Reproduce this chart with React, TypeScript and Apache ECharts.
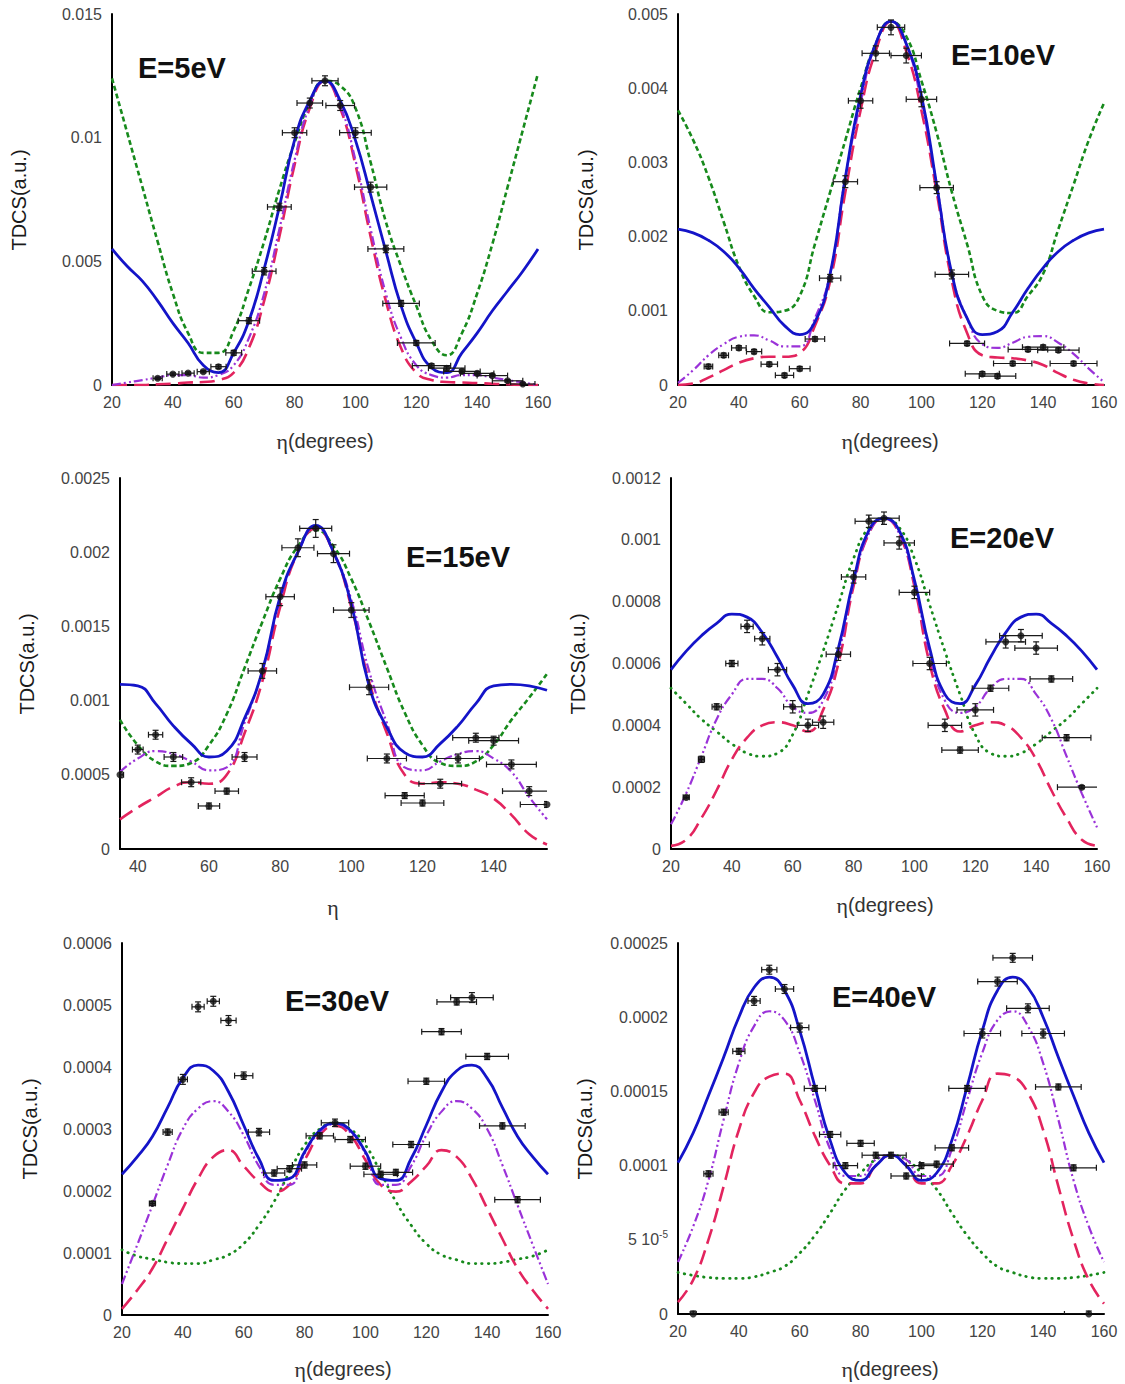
import { useEffect, useRef } from "react";
import * as echarts from "echarts";

// ---------- angles ----------
const ANG = [20, 25, 30, 35, 40, 45, 50, 55, 60, 65, 70, 75, 80, 85, 90, 95, 100, 105, 110, 115, 120, 125, 130, 135, 140, 145, 150, 155, 160];
const ANG15 = [35, 40, 45, 50, 55, 60, 65, 70, 75, 80, 85, 90, 95, 100, 105, 110, 115, 120, 125, 130, 135, 140, 145, 150, 155];

// ---------- E = 5 eV ----------
const e5Blue = [0.0055, 0.0048, 0.0042, 0.0034, 0.0025, 0.0017, 0.0008, 0.0005, 0.0013, 0.0026, 0.0047, 0.0072, 0.0099, 0.0115, 0.0123, 0.0115, 0.0099, 0.0077, 0.0054, 0.0032, 0.0017, 0.0007, 0.0005, 0.0013, 0.0021, 0.0030, 0.0038, 0.0046, 0.0055];
const e5Green = [0.0124, 0.0102, 0.0080, 0.0058, 0.0037, 0.0021, 0.0013, 0.0013, 0.0022, 0.0039, 0.0058, 0.0079, 0.0098, 0.0114, 0.0123, 0.0121, 0.0112, 0.0090, 0.0066, 0.0048, 0.0032, 0.0018, 0.0012, 0.0021, 0.0037, 0.0057, 0.0080, 0.0103, 0.0126];
const e5Purple = [0, 0.0001, 0.0002, 0.0003, 0.0004, 0.0004, 0.0003, 0.0004, 0.0008, 0.0019, 0.0037, 0.0063, 0.0091, 0.0113, 0.0123, 0.0113, 0.0091, 0.0063, 0.0037, 0.0019, 0.0008, 0.0004, 0.0003, 0.0004, 0.0004, 0.0003, 0.0002, 0.0001, 0];
const e5Red = [0, 0, 0, 0.00003, 0.00005, 0.0001, 0.00012, 0.0002, 0.0005, 0.0015, 0.0034, 0.006, 0.0089, 0.0112, 0.0123, 0.0112, 0.0089, 0.006, 0.0034, 0.0015, 0.0005, 0.0002, 0.00012, 0.0001, 0.00008, 0.00005, 0.00003, 0, 0];
const e5ExpX = [35, 40, 45, 50, 55, 60, 65, 70, 75, 80, 85, 90, 95, 100, 105, 110, 115, 120, 125, 130, 135, 140, 145, 150, 155];
const e5ExpY = [0.00027, 0.00044, 0.00048, 0.00054, 0.00074, 0.0013, 0.0026, 0.0046, 0.0072, 0.0102, 0.0114, 0.0123, 0.0113, 0.0102, 0.0080, 0.0055, 0.0033, 0.0017, 0.00078, 0.00068, 0.00055, 0.00047, 0.00038, 0.00017, 0.00004];
const e5ExpDx = [1.5, 2, 2, 2, 2.5, 2.6, 3.5, 3.9, 3.9, 4, 4.2, 4.3, 4.7, 5.2, 5.3, 5.9, 6, 6.2, 6.3, 6, 6, 5.5, 5, 5, 4];
const e5ExpDy = [0.00005, 0.00005, 0.00005, 0.00005, 0.00008, 0.0001, 0.00012, 0.00015, 0.00015, 0.0002, 0.0002, 0.0002, 0.0002, 0.0002, 0.0002, 0.00015, 0.00012, 0.0001, 0.00008, 0.00008, 0.00006, 0.00006, 0.00005, 0.00005, 0.00004];

// ---------- E = 10 eV ----------
const e10Blue = [0.0021, 0.00205, 0.00195, 0.0018, 0.00158, 0.0013, 0.00105, 0.0008, 0.00068, 0.00085, 0.0015, 0.0028, 0.0039, 0.0046, 0.0049, 0.0046, 0.0039, 0.0027, 0.0015, 0.0009, 0.00068, 0.00072, 0.00098, 0.0013, 0.00158, 0.0018, 0.00195, 0.00205, 0.0021];
const e10Green = [0.0037, 0.0033, 0.0028, 0.0022, 0.0016, 0.0012, 0.00098, 0.001, 0.0012, 0.0019, 0.0026, 0.0033, 0.004, 0.0046, 0.0049, 0.0047, 0.0041, 0.0034, 0.0026, 0.0019, 0.0012, 0.001, 0.00097, 0.0012, 0.0015, 0.0021, 0.0027, 0.0033, 0.0038];
const e10Purple = [0.00003, 0.0002, 0.0004, 0.00055, 0.00065, 0.00067, 0.0006, 0.00052, 0.00052, 0.0009, 0.0015, 0.0028, 0.0038, 0.0046, 0.0049, 0.0046, 0.0038, 0.0027, 0.0015, 0.0009, 0.00055, 0.0005, 0.00057, 0.00065, 0.00066, 0.00057, 0.00042, 0.00022, 0.00004];
const e10Red = [0, 0.00002, 0.0001, 0.0002, 0.0003, 0.00036, 0.00038, 0.00038, 0.00043, 0.0008, 0.0014, 0.0026, 0.0037, 0.0045, 0.0049, 0.0045, 0.0037, 0.0026, 0.0014, 0.0007, 0.0004, 0.00037, 0.00036, 0.00033, 0.00027, 0.00016, 0.00007, 0.00002, 0];
const e10ExpX = [30, 35, 40, 45, 50, 55, 60, 65, 70, 75, 80, 85, 90, 95, 100, 105, 110, 115, 120, 125, 130, 135, 140, 145, 150];
const e10ExpY = [0.00025, 0.0004, 0.0005, 0.00045, 0.00028, 0.00013, 0.00022, 0.00062, 0.00144, 0.00274, 0.00383, 0.00447, 0.00482, 0.00444, 0.00385, 0.00266, 0.00149, 0.00056, 0.00015, 0.00012, 0.00029, 0.00048, 0.00051, 0.00047, 0.00029];
const e10ExpDx = [1.4, 1.6, 2.4, 2.5, 2.7, 3, 3.4, 3.2, 3.5, 4, 4, 4.5, 4.5, 5, 5, 5.5, 5.5, 5.75, 5.6, 6, 6.3, 6.5, 6.8, 6.8, 7.7];
const e10ExpDy = [0.00003, 0.00003, 0.00003, 0.00003, 0.00003, 0.00003, 0.00003, 0.00003, 0.00005, 0.00008, 0.0001, 0.0001, 0.0001, 0.0001, 0.0001, 0.00008, 0.00006, 0.00003, 0.00003, 0.00003, 0.00003, 0.00003, 0.00003, 0.00003, 0.00003];

// ---------- E = 15 eV ----------
const e15Blue = [0.00111, 0.0011, 0.00098, 0.00083, 0.00071, 0.00062, 0.00066, 0.00088, 0.0012, 0.0017, 0.002, 0.00218, 0.002, 0.00165, 0.0011, 0.00082, 0.00065, 0.00062, 0.00071, 0.00083, 0.00098, 0.0011, 0.00111, 0.0011, 0.00107];
const e15Green = [0.00087, 0.0007, 0.00059, 0.00056, 0.00058, 0.0007, 0.00091, 0.00122, 0.00153, 0.00182, 0.00204, 0.00215, 0.00204, 0.00182, 0.00153, 0.00122, 0.00092, 0.0007, 0.00058, 0.00056, 0.00059, 0.0007, 0.00087, 0.00102, 0.00118];
const e15Purple = [0.00052, 0.00061, 0.00066, 0.00064, 0.00059, 0.00053, 0.00055, 0.00085, 0.0012, 0.00168, 0.002, 0.00217, 0.002, 0.00168, 0.0012, 0.00085, 0.00055, 0.00053, 0.00059, 0.00064, 0.00066, 0.00061, 0.00052, 0.00035, 0.0002];
const e15Red = [0.0002, 0.00028, 0.00035, 0.00042, 0.00045, 0.00044, 0.0005, 0.00078, 0.00113, 0.00163, 0.002, 0.00216, 0.002, 0.00163, 0.00113, 0.00078, 0.0005, 0.00044, 0.00045, 0.00044, 0.0004, 0.00034, 0.00023, 0.0001, 0.00003];
const e15ExpX = [35, 40, 45, 50, 55, 60, 65, 70, 75, 80, 85, 90, 95, 100, 105, 110, 115, 120, 125, 130, 135, 140, 145, 150, 155];
const e15ExpY = [0.0005, 0.00067, 0.00077, 0.00062, 0.00045, 0.00029, 0.00039, 0.00062, 0.0012, 0.0017, 0.00203, 0.00216, 0.00199, 0.00161, 0.00109, 0.00061, 0.00036, 0.00031, 0.00044, 0.00061, 0.00075, 0.00073, 0.00057, 0.00039, 0.0003];
const e15ExpDx = [1, 1.5, 2, 2.6, 2.7, 3, 3.3, 3.5, 4, 4, 4.5, 4.5, 4.5, 5, 5.5, 5.5, 5.5, 6, 6, 6, 6.5, 7, 7, 7.5, 7.5];
const e15ExpDy = [0.00002, 0.00003, 0.00003, 0.00003, 0.00003, 0.00002, 0.00002, 0.00003, 0.00005, 0.00006, 0.00006, 0.00006, 0.00006, 0.00005, 0.00005, 0.00003, 0.00002, 0.00002, 0.00003, 0.00003, 0.00003, 0.00003, 0.00003, 0.00003, 0.00002];

// ---------- E = 20 eV ----------
const e20Blue = [0.00058, 0.00064, 0.00069, 0.00073, 0.00076, 0.00075, 0.0007, 0.00062, 0.00053, 0.00047, 0.0005, 0.00065, 0.00087, 0.00103, 0.00107, 0.00103, 0.00087, 0.00065, 0.0005, 0.00047, 0.00053, 0.00062, 0.0007, 0.00075, 0.00076, 0.00073, 0.00069, 0.00064, 0.00058];
const e20Green = [0.00052, 0.00047, 0.00042, 0.00038, 0.00034, 0.00031, 0.0003, 0.00031, 0.00037, 0.0005, 0.00064, 0.00079, 0.00094, 0.00104, 0.00107, 0.00104, 0.00094, 0.00079, 0.00064, 0.0005, 0.00037, 0.00031, 0.0003, 0.00031, 0.00034, 0.00038, 0.00042, 0.00047, 0.00052];
const e20Purple = [0.00008, 0.00018, 0.0003, 0.00042, 0.0005, 0.00055, 0.00055, 0.00052, 0.00046, 0.00044, 0.00048, 0.00063, 0.00086, 0.00102, 0.00107, 0.00102, 0.00086, 0.00063, 0.00048, 0.00044, 0.00046, 0.00052, 0.00055, 0.00055, 0.0005, 0.00042, 0.0003, 0.00018, 0.00007];
const e20Red = [0.00001, 0.00003, 0.0001, 0.00019, 0.00029, 0.00036, 0.0004, 0.00041, 0.0004, 0.00038, 0.00045, 0.0006, 0.00085, 0.00102, 0.00107, 0.00102, 0.00085, 0.0006, 0.00045, 0.00038, 0.0004, 0.00041, 0.0004, 0.00036, 0.00029, 0.00019, 0.0001, 0.00003, 0.00001];
const e20ExpX = [25, 30, 35, 40, 45, 50, 55, 60, 65, 70, 75, 80, 85, 90, 95, 100, 105, 110, 115, 120, 125, 130, 135, 140, 145, 150, 155];
const e20ExpY = [0.000167, 0.00029, 0.00046, 0.0006, 0.00072, 0.00068, 0.00058, 0.00046, 0.0004, 0.00041, 0.00063, 0.00088, 0.00106, 0.00107, 0.00099, 0.00083, 0.0006, 0.0004, 0.00032, 0.00045, 0.00052, 0.00067, 0.00069, 0.00065, 0.00055, 0.00036, 0.0002];
const e20ExpDx = [1, 1, 1.5, 2, 2, 2.5, 3, 3, 3.5, 3.5, 4, 4, 4.5, 5, 5, 5, 5.5, 5.5, 6, 6, 6, 6.5, 7, 7, 7, 8, 8];
const e20ExpDy = [0.000005, 0.00001, 0.00001, 0.00001, 0.00002, 0.00002, 0.00002, 0.00002, 0.00002, 0.00002, 0.00002, 0.00002, 0.00002, 0.00002, 0.00002, 0.00002, 0.00002, 0.00002, 0.00001, 0.00002, 0.00001, 0.00002, 0.00002, 0.00002, 0.00001, 0.00001, 0.000005];

// ---------- E = 30 eV ----------
const e30Blue = [0.000227, 0.000255, 0.000288, 0.000335, 0.000382, 0.000403, 0.000394, 0.00036, 0.000306, 0.000252, 0.000217, 0.00022, 0.000263, 0.000298, 0.000309, 0.000298, 0.000263, 0.00022, 0.000217, 0.000252, 0.000306, 0.00036, 0.000394, 0.000403, 0.000382, 0.000335, 0.000288, 0.000255, 0.000227];
const e30Green = [0.000105, 0.000095, 0.00009, 0.000085, 0.000083, 0.000083, 0.000089, 0.000097, 0.000115, 0.000145, 0.000183, 0.00023, 0.000274, 0.0003, 0.00031, 0.0003, 0.000274, 0.00023, 0.000183, 0.000145, 0.000115, 0.000097, 0.000089, 0.000083, 0.000083, 0.000085, 0.00009, 0.000095, 0.000105];
const e30Purple = [0.00005, 0.000113, 0.000177, 0.000242, 0.0003, 0.000333, 0.000345, 0.000328, 0.00029, 0.00024, 0.00021, 0.00021, 0.00026, 0.000295, 0.000308, 0.000295, 0.00026, 0.00021, 0.00021, 0.00024, 0.00029, 0.000328, 0.000345, 0.000333, 0.0003, 0.000242, 0.000177, 0.000113, 0.00005];
const e30Red = [0.00001, 0.00004, 0.000075, 0.000123, 0.000172, 0.00022, 0.000255, 0.000266, 0.00024, 0.000215, 0.000199, 0.00021, 0.00025, 0.00029, 0.000305, 0.00029, 0.00025, 0.00021, 0.000199, 0.000215, 0.00024, 0.000266, 0.000255, 0.00022, 0.000172, 0.000123, 0.000075, 0.00004, 0.00001];
const e30ExpX = [30, 35, 40, 45, 50, 55, 60, 65, 70, 75, 80, 85, 90, 95, 100, 105, 110, 115, 120, 125, 130, 135, 140, 145, 150];
const e30ExpY = [0.00018, 0.000295, 0.00038, 0.000497, 0.000506, 0.000475, 0.000386, 0.000295, 0.000229, 0.000236, 0.000242, 0.000289, 0.00031, 0.000283, 0.00024, 0.000227, 0.00023, 0.000275, 0.000377, 0.000457, 0.000505, 0.000512, 0.000417, 0.000305, 0.000186];
const e30ExpDx = [1, 1.5, 1.5, 2, 2, 2.5, 3, 3.5, 3.5, 4, 4, 4.5, 4.5, 5, 5, 5.5, 5.5, 6, 6, 6.5, 6.5, 7, 7, 7.5, 7.5];
const e30ExpDy = [0.000003, 0.000005, 0.000008, 0.000008, 0.000008, 0.000008, 0.000006, 0.000006, 0.000005, 0.000005, 0.000005, 0.000005, 0.000006, 0.000005, 0.000005, 0.000005, 0.000005, 0.000005, 0.000005, 0.000005, 0.000005, 0.000008, 0.000005, 0.000005, 0.000005];

// ---------- E = 40 eV ----------
const e40Blue = [0.000102, 0.000122, 0.000147, 0.000173, 0.0002, 0.00022, 0.000227, 0.000218, 0.000191, 0.000153, 0.000117, 0.000095, 0.00009, 0.0001, 0.000107, 0.0001, 0.00009, 0.000095, 0.000117, 0.000153, 0.000191, 0.000218, 0.000227, 0.00022, 0.0002, 0.000173, 0.000147, 0.000122, 0.000102];
const e40Green = [0.000028, 0.000026, 0.0000246, 0.000024, 0.000024, 0.000025, 0.000028, 0.000032, 0.000041, 0.000053, 0.000068, 0.000084, 0.000095, 0.000104, 0.000107, 0.000104, 0.000095, 0.000084, 0.000068, 0.000053, 0.000041, 0.000032, 0.000028, 0.000025, 0.000024, 0.000024, 0.0000246, 0.000026, 0.000028];
const e40Purple = [0.000035, 0.000059, 0.00009, 0.000131, 0.000169, 0.000194, 0.000204, 0.000198, 0.000176, 0.000144, 0.000111, 0.000093, 0.000093, 0.000104, 0.000107, 0.000104, 0.000093, 0.000093, 0.000111, 0.000144, 0.000176, 0.000198, 0.000204, 0.000194, 0.000169, 0.000131, 0.00009, 0.000059, 0.000035];
const e40Red = [0.000008, 0.000023, 0.00005, 0.000086, 0.000124, 0.000149, 0.00016, 0.000162, 0.000144, 0.00012, 0.0001, 0.000088, 0.000088, 0.0001, 0.000107, 0.0001, 0.000088, 0.000088, 0.0001, 0.00012, 0.000144, 0.000162, 0.00016, 0.000149, 0.000124, 0.000086, 0.00005, 0.000023, 0.000007];
const e40ExpX = [25, 30, 35, 40, 45, 50, 55, 60, 65, 70, 75, 80, 85, 90, 95, 100, 105, 110, 115, 120, 125, 130, 135, 140, 145, 150, 155];
const e40ExpY = [0, 0.0000945, 0.000136, 0.000177, 0.000211, 0.000232, 0.000219, 0.000193, 0.000152, 0.000121, 0.0001, 0.000115, 0.000107, 0.000107, 0.000093, 0.0001, 0.000101, 0.000112, 0.000152, 0.000189, 0.000224, 0.00024, 0.000206, 0.000189, 0.000153, 0.0000985, 0];
const e40ExpDx = [1, 1.5, 1.5, 2, 2, 2.5, 3, 3, 3.5, 3.5, 4, 4.5, 4.5, 5, 5, 5, 5.5, 5.5, 6, 6, 6.5, 6.5, 7, 7, 7.5, 7.5, 8];
const e40ExpDy = [0.000002, 0.000002, 0.000002, 0.000002, 0.000003, 0.000003, 0.000003, 0.000003, 0.000002, 0.000002, 0.000002, 0.000002, 0.000002, 0.000002, 0.000002, 0.000002, 0.000002, 0.000002, 0.000002, 0.000003, 0.000003, 0.000003, 0.000003, 0.000003, 0.000002, 0.000002, 0.000002];

// ---------- axes / labels ----------
const energyLabels = ["E=5eV", "E=10eV", "E=15eV", "E=20eV", "E=30eV", "E=40eV"];
const xTitles = ["(degrees)", "(degrees)", "", "(degrees)", "(degrees)", "(degrees)"];
const yTitle = "TDCS(a.u.)";
const yMax = [0.015, 0.005, 0.0025, 0.0012, 0.0006, 0.00025];
const yStep = [0.005, 0.001, 0.0005, 0.0002, 0.0001, 0.00005];
const xMin = [20, 20, 35, 20, 20, 20];
const xMax = [160, 160, 155, 160, 160, 160];
const xTickValues = [20, 40, 60, 80, 100, 120, 140, 160];
const xTickValues15 = [40, 60, 80, 100, 120, 140];

const panels = [
  { ang: ANG, blue: e5Blue, green: e5Green, purple: e5Purple, red: e5Red, ex: e5ExpX, ey: e5ExpY, dx: e5ExpDx, dy: e5ExpDy },
  { ang: ANG, blue: e10Blue, green: e10Green, purple: e10Purple, red: e10Red, ex: e10ExpX, ey: e10ExpY, dx: e10ExpDx, dy: e10ExpDy },
  { ang: ANG15, blue: e15Blue, green: e15Green, purple: e15Purple, red: e15Red, ex: e15ExpX, ey: e15ExpY, dx: e15ExpDx, dy: e15ExpDy },
  { ang: ANG, blue: e20Blue, green: e20Green, purple: e20Purple, red: e20Red, ex: e20ExpX, ey: e20ExpY, dx: e20ExpDx, dy: e20ExpDy },
  { ang: ANG, blue: e30Blue, green: e30Green, purple: e30Purple, red: e30Red, ex: e30ExpX, ey: e30ExpY, dx: e30ExpDx, dy: e30ExpDy },
  { ang: ANG, blue: e40Blue, green: e40Green, purple: e40Purple, red: e40Red, ex: e40ExpX, ey: e40ExpY, dx: e40ExpDx, dy: e40ExpDy },
];

// ---------- layout (pixels) ----------
const grids = [
  { left: 112, top: 14, width: 426, height: 371 },
  { left: 678, top: 14, width: 426, height: 371 },
  { left: 120, top: 478, width: 427, height: 371 },
  { left: 671, top: 478, width: 426, height: 371 },
  { left: 122, top: 943, width: 426, height: 372 },
  { left: 678, top: 943, width: 426, height: 371 },
];
const yTitlePos = [[19, 200], [586, 200], [27, 664], [578, 664], [30, 1129], [585, 1129]];
const xTitlePos = [[325, 441], [890, 441], [333, 907], [885, 905], [343, 1369], [890, 1369]];
const ePos = [[138, 68], [951, 55], [406, 557], [950, 538], [285, 1001], [832, 997]];

const SANS = "'Liberation Sans', Arial, sans-serif";
const SERIF = "'Liberation Serif', 'Times New Roman', serif";
const C_BLUE = "#1414c8";
const C_GREEN = "#178a1c";
const C_PURPLE = "#9a32d8";
const C_RED = "#e3245e";

const zip = (xs: number[], ys: number[]) => xs.map((x, i) => [x, ys[i]]);
const fmt = (v: number) => (Math.abs(v) < 1e-12 ? "0" : String(parseFloat(v.toPrecision(4))));

const renderErr = (_params: any, api: any) => {
  const x = api.value(0), y = api.value(1), dx = api.value(2), dy = api.value(3);
  const l = api.coord([x - dx, y]);
  const r = api.coord([x + dx, y]);
  const b = api.coord([x, y - dy]);
  const t = api.coord([x, y + dy]);
  const c = 3;
  const st = { stroke: "#1a1a1a", lineWidth: 1.2 };
  return {
    type: "group",
    children: [
      { type: "line", shape: { x1: l[0], y1: l[1], x2: r[0], y2: r[1] }, style: st },
      { type: "line", shape: { x1: l[0], y1: l[1] - c, x2: l[0], y2: l[1] + c }, style: st },
      { type: "line", shape: { x1: r[0], y1: r[1] - c, x2: r[0], y2: r[1] + c }, style: st },
      { type: "line", shape: { x1: b[0], y1: b[1], x2: t[0], y2: t[1] }, style: st },
      { type: "line", shape: { x1: b[0] - c, y1: b[1], x2: b[0] + c, y2: b[1] }, style: st },
      { type: "line", shape: { x1: t[0] - c, y1: t[1], x2: t[0] + c, y2: t[1] }, style: st },
    ],
  };
};

function buildOption() {
  const xAxis: any[] = [];
  const yAxis: any[] = [];
  const series: any[] = [];
  const graphic: any[] = [];

  panels.forEach((p, i) => {
    const ticks = i === 2 ? xTickValues15 : xTickValues;
    xAxis.push({
      type: "value",
      gridIndex: i,
      min: xMin[i],
      max: xMax[i],
      splitLine: { show: false },
      axisLine: { show: true, onZero: false, lineStyle: { color: "#000", width: 2 } },
      axisTick: { show: false, customValues: ticks },
      axisLabel: { customValues: ticks, color: "#444", fontSize: 16, fontFamily: SANS, margin: 9 },
    });
    const isE40 = i === 5;
    yAxis.push({
      type: "value",
      gridIndex: i,
      min: 0,
      max: yMax[i],
      interval: yStep[i],
      splitLine: { show: false },
      axisLine: { show: true, onZero: false, lineStyle: { color: "#000", width: 2 } },
      axisTick: { show: false },
      axisLabel: {
        color: "#444",
        fontSize: 16,
        fontFamily: SANS,
        margin: 10,
        formatter: (v: number) => (isE40 && Math.abs(v - 0.00005) < 1e-9 ? "{a|5 10}{s|-5}" : fmt(v)),
        rich: {
          a: { fontSize: 16, color: "#444", fontFamily: SANS, lineHeight: 20 },
          s: { fontSize: 10, color: "#444", fontFamily: SANS, verticalAlign: "top", lineHeight: 12, padding: [0, 0, 8, 0] },
        },
      },
    });

    const lower = i >= 3;
    const common = { xAxisIndex: i, yAxisIndex: i, type: "line", showSymbol: false, symbol: "none", smooth: 0.5, silent: true };
    series.push({
      ...common,
      name: `green${i}`,
      data: zip(p.ang, p.green),
      lineStyle: lower
        ? { color: C_GREEN, width: 2.8, type: [0.5, 6], cap: "round" }
        : { color: C_GREEN, width: 2.6, type: [5, 3] },
    });
    series.push({
      ...common,
      name: `red${i}`,
      data: zip(p.ang, p.red),
      lineStyle: { color: C_RED, width: 2.6, type: [15, 7] },
    });
    series.push({
      ...common,
      name: `purple${i}`,
      data: zip(p.ang, p.purple),
      lineStyle: { color: C_PURPLE, width: 2.2, type: [9, 3, 2, 3, 2, 3] },
    });
    series.push({
      ...common,
      name: `blue${i}`,
      data: zip(p.ang, p.blue),
      lineStyle: { color: C_BLUE, width: 2.8 },
    });
    series.push({
      type: "custom",
      name: `err${i}`,
      xAxisIndex: i,
      yAxisIndex: i,
      clip: true,
      silent: true,
      renderItem: renderErr,
      encode: { x: 0, y: 1 },
      data: p.ex.map((x, k) => [x, p.ey[k], p.dx[k], p.dy[k]]),
      z: 5,
    });
    series.push({
      type: "scatter",
      name: `exp${i}`,
      xAxisIndex: i,
      yAxisIndex: i,
      symbol: "circle",
      symbolSize: 7,
      silent: true,
      itemStyle: { color: "#111" },
      data: zip(p.ex, p.ey),
      z: 6,
    });

    graphic.push({
      type: "text",
      x: yTitlePos[i][0],
      y: yTitlePos[i][1],
      rotation: Math.PI / 2,
      style: { text: yTitle, fill: "#1a1a1a", font: `20px ${SANS}`, align: "center", verticalAlign: "middle" },
    });
    graphic.push({
      type: "text",
      x: xTitlePos[i][0],
      y: xTitlePos[i][1],
      style: {
        text: xTitles[i] ? `{e|η}{t|${xTitles[i]}}` : "{e|η}",
        align: "center",
        verticalAlign: "middle",
        rich: {
          e: { fontFamily: SERIF, fontSize: 22, fill: "#333" },
          t: { fontFamily: SANS, fontSize: 20, fill: "#333" },
        },
      },
    });
    graphic.push({
      type: "text",
      x: ePos[i][0],
      y: ePos[i][1],
      style: { text: energyLabels[i], fill: "#111", font: `bold 29px ${SANS}`, align: "left", verticalAlign: "middle" },
    });
  });

  return {
    animation: false,
    backgroundColor: "#fff",
    grid: grids.map((g) => ({ ...g, containLabel: false })),
    xAxis,
    yAxis,
    series,
    graphic,
  };
}

export default function App() {
  const ref = useRef<HTMLDivElement>(null);
  useEffect(() => {
    if (!ref.current) return;
    const chart = echarts.init(ref.current, undefined, { renderer: "svg" });
    chart.setOption(buildOption() as any);
    return () => chart.dispose();
  }, []);
  return <div ref={ref} style={{ position: "absolute", left: 0, top: 0, width: 1125, height: 1384 }} />;
}
